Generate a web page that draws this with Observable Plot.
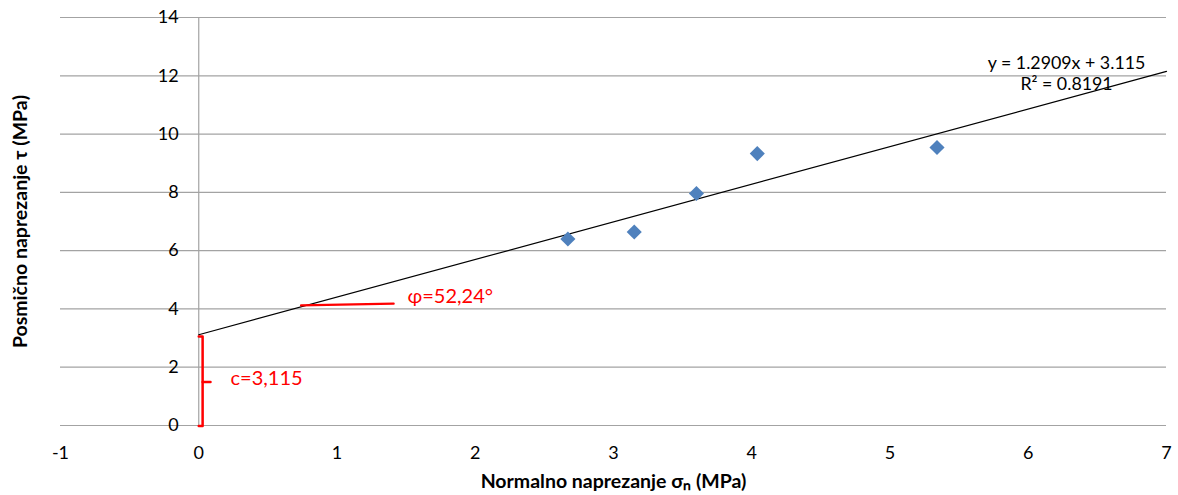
<!DOCTYPE html>
<html>
<head>
<meta charset="utf-8">
<script src="https://cdn.jsdelivr.net/npm/d3@7"></script>
<script src="https://cdn.jsdelivr.net/npm/@observablehq/plot@0.6"></script>
<style>
  html, body { margin: 0; padding: 0; background: #fff; }
  #chart svg { display: block; }
</style>
</head>
<body>
<div id="chart"></div>
<script>
// ---- data ----
const xTicks = [-1, 0, 1, 2, 3, 4, 5, 6, 7];
const yTicks = [0, 2, 4, 6, 8, 10, 12, 14];
const sigmaN = [2.67, 3.15, 3.60, 4.04, 5.34];
const tau = [6.40, 6.64, 7.96, 9.33, 9.54];
const slope = 1.2909;
const intercept = 3.115;
const r2 = 0.8191;
const trendX = [0, 7];
const phiLine = [{x: 0.74, y: 4.12}, {x: 1.41, y: 4.18}];
const phiLabel = [{x: 1.51, y: 4.43, text: "φ=52,24°"}];
const bracket = [{x: 0, y: 3.05}, {x: 0.028, y: 3.05}, {x: 0.028, y: -0.02}, {x: 0, y: -0.02}];
const bracketTick = [{x: 0.028, y: 1.49}, {x: 0.085, y: 1.49}];
const cLabel = [{x: 0.23, y: 1.61, text: "c=3,115"}];
const xTitle = "Normalno naprezanje σₙ (MPa)";
const yTitle = "Posmično naprezanje τ (MPa)";

const points = sigmaN.map((x, i) => ({x, y: tau[i]}));
const trend = trendX.map(x => ({x, y: slope * x + intercept}));
const eqText = `y = ${slope}x + ${intercept}\nR² = ${r2}`;

const font = "Lato, 'Liberation Sans', sans-serif";
const grid = "#a3a3a3";
const red = "#ff0000";

const chart = Plot.plot({
  width: 1178,
  height: 495,
  marginLeft: 60,
  marginRight: 12,
  marginTop: 17,
  marginBottom: 70,
  style: {fontFamily: font, background: "#fff", color: "#000"},
  x: {domain: [-1, 7], axis: null},
  y: {domain: [0, 14], axis: null},
  marks: [
    Plot.ruleY(yTicks, {stroke: grid, strokeWidth: 1.2}),
    Plot.ruleX([0], {y1: 0, y2: 14, stroke: grid, strokeWidth: 1.2}),
    Plot.text(yTicks, {x: 0, y: d => d, dx: -20, textAnchor: "end", fontSize: 18, fill: "#000"}),
    Plot.text(xTicks, {x: d => d, frameAnchor: "bottom", dy: 28, lineAnchor: "middle", fontSize: 18, fill: "#000"}),
    Plot.text([xTitle], {frameAnchor: "bottom", dy: 56, textAnchor: "middle", lineAnchor: "middle", fontSize: 19.5, fontWeight: "bold", fill: "#000"}),
    Plot.text([yTitle], {frameAnchor: "left", dx: -40, rotate: -90, textAnchor: "middle", lineAnchor: "middle", fontSize: 19.5, fontWeight: "bold", fill: "#000"}),
    Plot.line(trend, {x: "x", y: "y", stroke: "#000", strokeWidth: 1.2}),
    Plot.dot(points, {x: "x", y: "y", symbol: "diamond2", r: 6.8, fill: "#4f81bd", stroke: "none"}),
    Plot.line(phiLine, {x: "x", y: "y", stroke: red, strokeWidth: 2.2}),
    Plot.text(phiLabel, {x: "x", y: "y", text: "text", textAnchor: "start", lineAnchor: "middle", fontSize: 20, fill: red}),
    Plot.line(bracket, {x: "x", y: "y", stroke: red, strokeWidth: 2.5}),
    Plot.line(bracketTick, {x: "x", y: "y", stroke: red, strokeWidth: 2.5}),
    Plot.text(cLabel, {x: "x", y: "y", text: "text", textAnchor: "start", lineAnchor: "middle", fontSize: 20, fill: red}),
    Plot.text([eqText], {frameAnchor: "top-right", dx: -100, dy: 55, textAnchor: "middle", lineAnchor: "middle", lineHeight: 1.2, fontSize: 17.8, fill: "#000"})
  ]
});
document.getElementById("chart").appendChild(chart);
</script>
</body>
</html>
